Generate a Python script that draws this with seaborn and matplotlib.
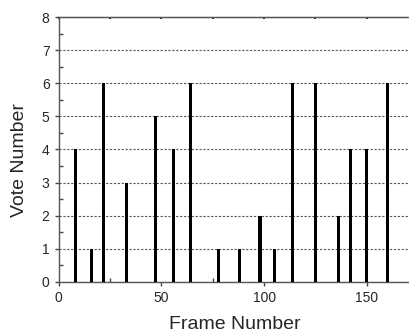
import numpy as np
import pandas as pd
import seaborn as sns
import matplotlib
matplotlib.use('Agg')
import matplotlib.pyplot as plt
from matplotlib.ticker import MultipleLocator

# frames that got votes, and how many votes each
frames = [8, 16, 22, 33, 47, 56, 64, 78, 88, 98, 105, 114, 125, 136, 142, 150, 160]
votes = [4, 1, 6, 3, 5, 4, 6, 1, 1, 2, 1, 6, 6, 2, 4, 4, 6]

data = pd.DataFrame({'frame': frames, 'vote': votes})

sns.set_style('ticks')
plt.rcParams['font.family'] = ['Liberation Sans', 'DejaVu Sans']

fig = plt.figure(figsize=(4.10, 3.34), dpi=100)
ax = fig.add_axes([0.143, 0.156, 0.857, 0.793])

# narrow bars; no antialiasing so they all come out the same width
sns.barplot(data=data, x='frame', y='vote', native_scale=True, width=0.245,
            color='black', saturation=1, linewidth=0, ax=ax, zorder=3)
for p in ax.patches:
    p.set_antialiased(False)

ax.set_xlim(0, 171)
ax.set_ylim(0, 8)

# dashed guide lines
ax.yaxis.grid(True, linestyle=(0, (2, 1.5)), color='#555555', linewidth=0.8, zorder=0)
ax.set_axisbelow(True)

ax.xaxis.set_major_locator(MultipleLocator(50))
ax.xaxis.set_minor_locator(MultipleLocator(25))
ax.yaxis.set_major_locator(MultipleLocator(1))
ax.yaxis.set_minor_locator(MultipleLocator(0.5))
ax.tick_params(which='major', direction='out', length=3, width=1, color='#444444', labelsize=10)
ax.tick_params(which='minor', direction='in', length=3, width=1, color='#444444')

top = ax.secondary_xaxis('top')
top.xaxis.set_major_locator(MultipleLocator(25))
top.tick_params(direction='in', length=1.5, width=1.2, labeltop=False, color='black')
top.spines['top'].set_color('#555555')

for side in ['left', 'bottom', 'top']:
    ax.spines[side].set_color('#555555')
    ax.spines[side].set_linewidth(1)
ax.spines['right'].set_visible(False)

ax.set_xlabel('Frame Number', fontsize=14, labelpad=8)
ax.set_ylabel('Vote Number', fontsize=14)
ax.yaxis.set_label_coords(-0.087, 0.46)

fig.savefig('out.png', dpi=100)
